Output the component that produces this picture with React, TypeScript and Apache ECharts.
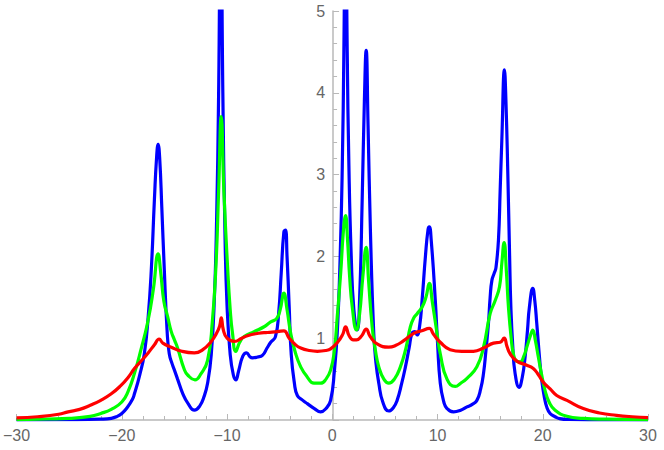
import React, { useEffect, useRef } from "react";
import * as echarts from "echarts";

const xTicks = [-30, -20, -10, 0, 10, 20, 30];
const yTicks = [0, 1, 2, 3, 4, 5];

const blueX = [-30, -25, -22, -21, -20.5, -20, -19.5, -19, -18.8, -18.3, -17.86, -17.5, -17.2, -16.9, -16.7, -16.55, -16.4, -16.2, -15.96, -15.7, -15.49, -15.2, -15.0, -14.7, -14.2, -13.7, -13.1, -12.6, -12.2, -11.85, -11.5, -11.2, -11.0, -10.8, -10.6, -10.4, -10.2, -10.0, -9.7, -9.4, -9.17, -8.9, -8.5, -8.15, -7.8, -7.58, -7.1, -6.64, -6.2, -5.85, -5.4, -5.1, -4.85, -4.6, -4.45, -4.3, -4.1, -3.9, -3.6, -3.32, -2.8, -2.37, -1.7, -1.11, -0.6, -0.16, 0.2, 0.47, 0.75, 0.95, 1.1, 1.26, 1.42, 1.58, 1.8, 2.05, 2.37, 2.6, 2.84, 3.05, 3.22, 3.4, 3.63, 3.94, 4.15, 4.42, 4.8, 5.37, 5.8, 6.16, 6.6, 6.95, 7.3, 7.58, 7.85, 8.06, 8.3, 8.53, 8.85, 9.1, 9.22, 9.4, 9.79, 10.0, 10.26, 10.6, 10.9, 11.53, 12.2, 12.8, 13.3, 13.74, 14.1, 14.37, 14.6, 14.84, 15.0, 15.17, 15.4, 15.55, 15.79, 15.95, 16.11, 16.36, 16.5, 16.68, 16.85, 16.97, 17.15, 17.37, 17.75, 18.05, 18.32, 18.55, 18.73, 19.05, 19.25, 19.43, 19.7, 19.9, 20.15, 20.38, 20.7, 21.17, 21.6, 22.5, 25, 30];
const blueY = [0.0, 0.003, 0.01, 0.02, 0.04, 0.08, 0.15, 0.25, 0.32, 0.55, 0.81, 1.25, 1.83, 2.7, 3.2, 3.37, 3.2, 2.6, 1.83, 1.1, 0.81, 0.68, 0.61, 0.5, 0.32, 0.2, 0.12, 0.17, 0.28, 0.45, 0.8, 1.5, 2.4, 4.0, 6.5, 4.0, 2.3, 1.4, 0.8, 0.55, 0.49, 0.6, 0.78, 0.82, 0.77, 0.76, 0.77, 0.79, 0.88, 0.95, 1.02, 1.3, 1.8, 2.3, 2.32, 2.0, 1.4, 0.8, 0.45, 0.3, 0.24, 0.2, 0.14, 0.1, 0.14, 0.24, 0.6, 1.06, 2.0, 3.1, 4.5, 6.5, 4.5, 3.1, 2.0, 1.35, 1.1, 1.5, 2.69, 3.9, 4.52, 3.6, 2.28, 1.06, 0.7, 0.45, 0.22, 0.11, 0.15, 0.24, 0.45, 0.65, 0.88, 1.06, 1.08, 1.04, 1.15, 1.46, 2.0, 2.33, 2.36, 2.2, 1.46, 0.95, 0.45, 0.22, 0.14, 0.1, 0.12, 0.16, 0.19, 0.24, 0.38, 0.57, 0.85, 1.18, 1.5, 1.71, 1.8, 1.86, 2.2, 2.8, 3.42, 4.28, 3.9, 3.01, 2.0, 1.38, 0.9, 0.57, 0.4, 0.52, 0.77, 1.1, 1.38, 1.61, 1.45, 1.18, 0.75, 0.49, 0.28, 0.16, 0.08, 0.04, 0.017, 0.006, 0.002, 0.0];

const greenX = [-30, -27, -25, -23, -22, -21, -20, -19.4, -18.8, -18.2, -17.5, -17.0, -16.55, -16.3, -16.0, -15.64, -15.3, -15.0, -14.7, -14.07, -13.74, -13.05, -12.5, -11.85, -11.4, -11.06, -10.8, -10.55, -10.3, -9.95, -9.7, -9.48, -9.17, -8.8, -8.38, -7.43, -6.48, -5.85, -5.28, -4.95, -4.6, -4.3, -3.95, -3.5, -3.0, -2.4, -1.74, -1.1, -0.6, -0.16, 0.2, 0.47, 0.8, 1.05, 1.26, 1.45, 1.65, 1.9, 2.3, 2.6, 2.9, 3.22, 3.45, 3.79, 4.1, 4.42, 4.9, 5.37, 5.9, 6.47, 7.0, 7.42, 7.75, 8.06, 8.53, 8.9, 9.22, 9.5, 9.95, 10.26, 10.9, 11.69, 12.2, 12.8, 13.74, 14.37, 15.0, 15.48, 15.89, 16.1, 16.33, 16.55, 16.74, 17.0, 17.21, 17.5, 17.85, 18.2, 18.48, 18.8, 19.05, 19.3, 19.58, 19.9, 20.22, 20.6, 21.17, 22.3, 23.85, 26, 30];
const greenY = [0.005, 0.012, 0.02, 0.045, 0.08, 0.13, 0.22, 0.35, 0.57, 0.85, 1.22, 1.6, 2.03, 1.8, 1.45, 1.26, 1.08, 0.98, 0.88, 0.62, 0.55, 0.49, 0.56, 0.73, 1.2, 1.87, 2.8, 3.71, 2.8, 1.87, 1.35, 1.06, 0.84, 0.95, 1.02, 1.08, 1.14, 1.2, 1.24, 1.35, 1.55, 1.35, 1.06, 0.82, 0.65, 0.53, 0.45, 0.45, 0.5, 0.61, 0.85, 1.26, 1.8, 2.3, 2.5, 2.2, 1.75, 1.38, 1.1, 1.3, 1.75, 2.11, 1.7, 1.14, 0.85, 0.65, 0.5, 0.45, 0.5, 0.65, 0.88, 1.14, 1.25, 1.3, 1.38, 1.5, 1.67, 1.45, 1.06, 0.81, 0.5, 0.41, 0.45, 0.51, 0.65, 0.89, 1.3, 1.46, 1.63, 1.9, 2.17, 1.8, 1.38, 1.0, 0.81, 0.72, 0.71, 0.78, 0.89, 1.02, 1.1, 0.97, 0.77, 0.55, 0.36, 0.22, 0.12, 0.045, 0.02, 0.01, 0.005];

const redX = [-30, -28, -26, -25.1, -24, -23, -22, -21, -20.1, -19.4, -18.8, -18.1, -17.5, -16.9, -16.45, -16.1, -15.3, -14.3, -13.1, -12.3, -11.5, -11.0, -10.7, -10.55, -10.35, -10.0, -9.3, -8.6, -8.06, -7.0, -6.16, -5.2, -4.6, -4.1, -3.5, -3.0, -2.2, -1.42, -0.6, -0.16, 0.5, 1.0, 1.26, 1.6, 2.0, 2.3, 2.8, 3.22, 3.6, 4.26, 5.37, 6.0, 6.79, 7.74, 8.5, 9.22, 9.6, 10.26, 11.2, 12.3, 13.42, 14.37, 15.32, 15.95, 16.33, 16.6, 16.9, 17.54, 18.48, 19.1, 19.6, 20.06, 20.7, 21.33, 22.3, 23.85, 25.4, 27.0, 28.5, 30];
const redY = [0.025, 0.04, 0.07, 0.1, 0.13, 0.18, 0.24, 0.32, 0.42, 0.52, 0.63, 0.73, 0.82, 0.92, 0.99, 0.94, 0.89, 0.84, 0.82, 0.86, 0.96, 1.06, 1.15, 1.25, 1.1, 1.0, 0.96, 1.0, 1.03, 1.06, 1.07, 1.08, 1.09, 1.0, 0.92, 0.88, 0.85, 0.84, 0.85, 0.87, 0.95, 1.05, 1.14, 1.03, 0.98, 0.98, 1.03, 1.11, 1.02, 0.93, 0.89, 0.91, 0.97, 1.06, 1.09, 1.12, 1.05, 0.95, 0.86, 0.84, 0.84, 0.88, 0.94, 0.95, 1.0, 0.9, 0.81, 0.72, 0.67, 0.63, 0.55, 0.46, 0.38, 0.3, 0.24, 0.14, 0.086, 0.057, 0.04, 0.03];

const pairs = (xs: number[], ys: number[]) => xs.map((x, i) => [x, ys[i]]);

const axisGray = "#b8b8b8";
const labelGray = "#666666";
const GRID_LEFT = 15;
const GRID_RIGHT = 16;
const WIDTH = 664;

export default function App() {
  const ref = useRef<HTMLDivElement>(null);
  useEffect(() => {
    if (!ref.current) return;
    const chart = echarts.init(ref.current, null, { renderer: "svg" });
    const plotW = WIDTH - GRID_LEFT - GRID_RIGHT;
    const zeroOffset = -plotW * (0 - xTicks[0]) / (xTicks[xTicks.length - 1] - xTicks[0]);
    const mkSeries = (name: string, xs: number[], ys: number[], color: string) => ({
      name,
      type: "line",
      data: pairs(xs, ys),
      showSymbol: false,
      symbol: "none",
      smooth: 0.5,
      clip: true,
      lineStyle: { color, width: 3.2 },
      itemStyle: { color },
    });
    chart.setOption({
      animation: false,
      grid: { left: GRID_LEFT, right: GRID_RIGHT, top: 11, bottom: 30, containLabel: false },
      xAxis: {
        type: "value",
        min: xTicks[0],
        max: xTicks[xTicks.length - 1],
        interval: 10,
        axisLine: { show: true, onZero: true, lineStyle: { color: axisGray, width: 1.5 } },
        axisTick: { show: true, inside: true, length: 6, lineStyle: { color: axisGray, width: 1 } },
        minorTick: { show: true, splitNumber: 5, length: 4, lineStyle: { color: axisGray, width: 1 } },
        splitLine: { show: false },
        axisLabel: {
          show: true,
          margin: 7,
          color: labelGray,
          fontSize: 16,
          fontFamily: "Liberation Sans, Arial, sans-serif",
          formatter: (v: number) => (v < 0 ? "\u2212" + Math.abs(v) : String(v)),
        },
      },
      yAxis: {
        type: "value",
        position: "left",
        offset: zeroOffset,
        min: yTicks[0],
        max: yTicks[yTicks.length - 1],
        interval: 1,
        axisLine: { show: true, onZero: false, lineStyle: { color: axisGray, width: 1.5 } },
        axisTick: { show: true, inside: true, length: 6, lineStyle: { color: axisGray, width: 1 } },
        minorTick: { show: true, splitNumber: 5, length: 4, lineStyle: { color: axisGray, width: 1 } },
        splitLine: { show: false },
        axisLabel: {
          show: true,
          margin: 8,
          color: labelGray,
          fontSize: 16,
          fontFamily: "Liberation Sans, Arial, sans-serif",
          formatter: (v: number) => (v === 0 ? "" : String(v)),
        },
      },
      series: [
        mkSeries("blue", blueX, blueY, "#0000ff"),
        mkSeries("green", greenX, greenY, "#00ff00"),
        mkSeries("red", redX, redY, "#ff0000"),
      ],
    });
    return () => chart.dispose();
  }, []);
  return (
    <div
      ref={ref}
      style={{ position: "fixed", left: 0, top: 0, width: WIDTH, height: 450, background: "#fff" }}
    />
  );
}
